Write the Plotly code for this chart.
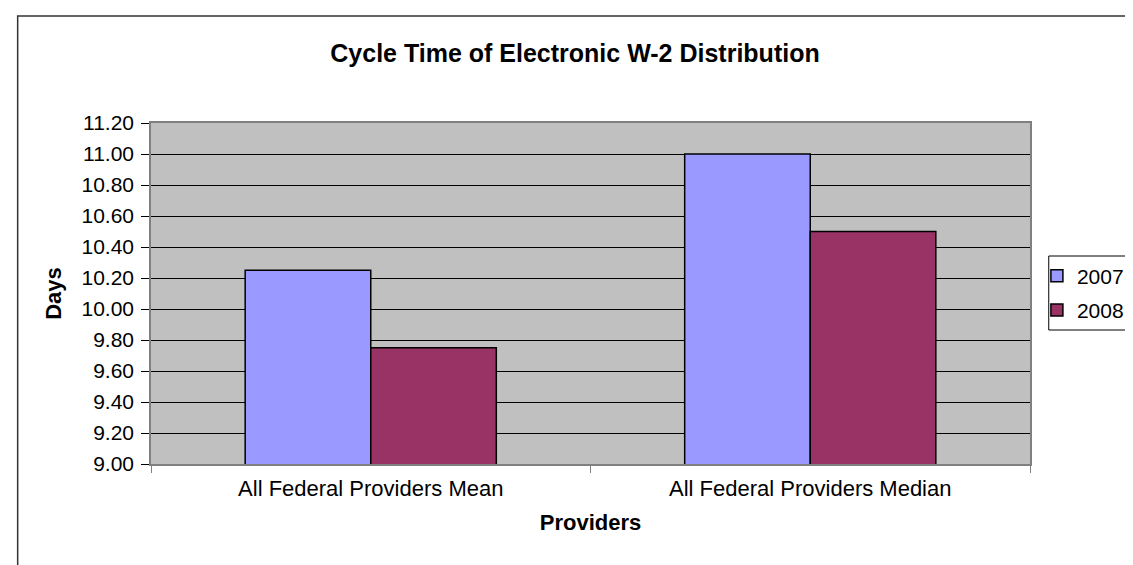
import plotly.graph_objects as go

categories = ["All Federal Providers Mean", "All Federal Providers Median"]
series_names = ["2007", "2008"]
values_2007 = [10.25, 11.00]
values_2008 = [9.75, 10.50]
tick_vals = [9.0, 9.2, 9.4, 9.6, 9.8, 10.0, 10.2, 10.4, 10.6, 10.8, 11.0, 11.2]
tick_text = ["9.00", "9.20", "9.40", "9.60", "9.80", "10.00", "10.20", "10.40", "10.60", "10.80", "11.00", "11.20"]

FONT = "Liberation Sans, Arial, sans-serif"

fig = go.Figure()
fig.add_trace(go.Bar(x=categories, y=values_2007, name=series_names[0], legendgroup="a",
                     marker=dict(color="#9999FF", line=dict(color="black", width=1.5))))
fig.add_trace(go.Bar(x=categories, y=values_2008, name=series_names[1], legendgroup="b",
                     marker=dict(color="#993366", line=dict(color="black", width=1.5))))

L, R, T, B = 143, 1033, 115, 456
W, H = 1133, 565
pw, ph = R - L, B - T


def px(x):
    return (x - L) / pw


def py(y):
    return (B - y) / ph


fig.update_layout(
    width=W, height=H,
    margin=dict(l=L, r=W - R, t=T, b=H - B, pad=0),
    paper_bgcolor="white", plot_bgcolor="#C0C0C0",
    barmode="group", bargap=1.5 / 3.5, bargroupgap=0,
    font=dict(family=FONT, size=21, color="black"),
    title=dict(text="<b>Cycle Time of Electronic W-2 Distribution</b>",
               x=567 / W, xanchor="center", y=1 - 45 / H, yanchor="middle",
               font=dict(family=FONT, size=25, color="black")),
    showlegend=True,
    legend=dict(x=px(1040), xanchor="left", y=py(285), yanchor="middle",
                borderwidth=0, bgcolor="rgba(0,0,0,0)",
                traceorder="grouped", tracegroupgap=4,
                font=dict(family=FONT, size=21), itemwidth=30),
    xaxis=dict(showline=True, linecolor="#808080", linewidth=1.5, mirror=True,
               ticks="outside", tickson="boundaries", ticklen=7, tickcolor="#808080",
               showgrid=False, tickfont=dict(size=22), ticklabelstandoff=4,
               title=dict(text="<b>Providers</b>", font=dict(size=22), standoff=14)),
    yaxis=dict(range=[9.0, 11.2], tickvals=tick_vals, ticktext=tick_text,
               showline=True, linecolor="#808080", linewidth=1.5, mirror=True,
               ticks="outside", ticklen=8, tickcolor="black",
               showgrid=True, gridcolor="black", gridwidth=1, zeroline=False,
               tickfont=dict(size=21), ticklabelstandoff=3,
               title=dict(text="<b>Days</b>", font=dict(size=22), standoff=14)),
)

# outer chart border (left and top edges visible)
fig.add_shape(type="rect", xref="paper", yref="paper",
              x0=px(8), x1=px(W + 20), y0=py(H + 20), y1=py(8),
              line=dict(color="#333333", width=1.5), fillcolor="rgba(0,0,0,0)", layer="below")
# legend box
fig.add_shape(type="rect", xref="paper", yref="paper",
              x0=px(1052), x1=px(W + 20), y0=py(322), y1=py(248),
              line=dict(color="black", width=1), fillcolor="white", layer="below")

fig.write_html("out.html")
